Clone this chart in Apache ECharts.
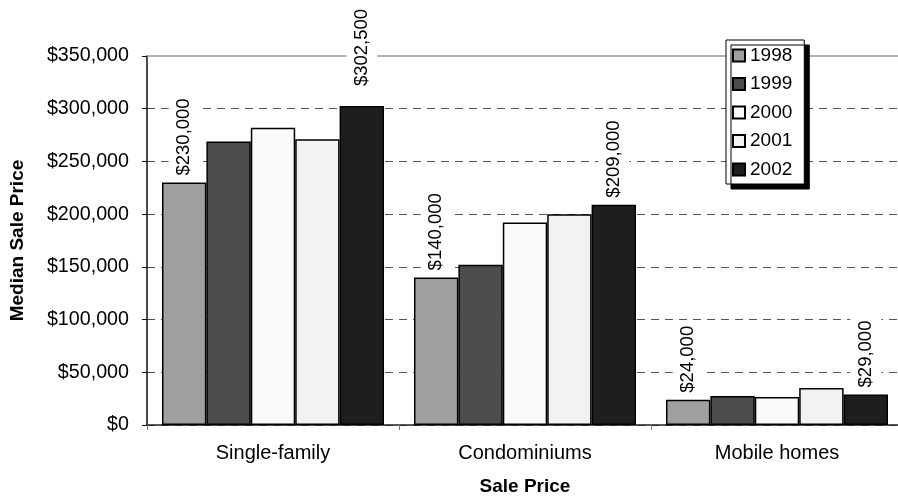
<!DOCTYPE html>
<html>
<head>
<meta charset="utf-8">
<script src="https://cdn.jsdelivr.net/npm/echarts@6/dist/echarts.min.js"></script>
<style>
  html, body { margin: 0; padding: 0; background: #fff; }
  #chart { width: 898px; height: 496px; }
</style>
</head>
<body>
<div id="chart"></div>
<script>
// Median sale price by housing type, 1998-2002
const categories = ['Single-family', 'Condominiums', 'Mobile homes'];
const years = ['1998', '1999', '2000', '2001', '2002'];
const values1998 = [230000, 140000, 24000];
const values1999 = [269000, 152000, 27500];
const values2000 = [282000, 192000, 26500];
const values2001 = [271000, 200000, 35000];
const values2002 = [302500, 209000, 29000];
const yMin = 0;
const yMax = 350000;
const yStep = 50000;

const seriesValues = [values1998, values1999, values2000, values2001, values2002];
const fills = ['#a0a0a0', '#4d4d4d', '#fafafa', '#f2f2f2', '#1e1e1e'];
const labelledYears = ['1998', '2002'];
const FONT = "'Liberation Sans', Arial, sans-serif";

const money = v => '$' + v.toLocaleString('en-US');

const series = years.map((yr, i) => {
  const showLabel = labelledYears.includes(yr);
  return {
    name: yr,
    type: 'bar',
    barGap: '0%',
    barCategoryGap: '11.9%',
    itemStyle: { color: fills[i], borderColor: '#000', borderWidth: 1.5 },
    label: {
      show: showLabel,
      position: 'top',
      rotate: 90,
      align: 'left',
      verticalAlign: 'middle',
      distance: 4,
      padding: [6, 3, 6, 3],
      backgroundColor: '#fff',
      color: '#000',
      fontFamily: FONT,
      fontSize: 18.5,
      formatter: p => money(p.value)
    },
    data: seriesValues[i].map(v => {
      // the tallest bar's label sits a little higher, clear of the top rule
      if (showLabel && yr === '2002' && v === Math.max(...values2002)) {
        return { value: v, label: { distance: 17 } };
      }
      return v;
    })
  };
});

const chart = echarts.init(document.getElementById('chart'), null, { renderer: 'canvas' });
chart.setOption({
  animation: false,
  backgroundColor: '#fff',
  textStyle: { fontFamily: FONT },
  grid: {
    left: 147, top: 56, width: 756, height: 369,
    containLabel: false,
    outerBoundsMode: 'none'
  },
  legend: {
    orient: 'vertical',
    left: 726,
    top: 40,
    icon: 'rect',
    itemWidth: 12,
    itemHeight: 12,
    itemGap: 9.5,
    padding: [6, 12, 5, 6],
    backgroundColor: '#fff',
    borderColor: '#000',
    borderWidth: 1,
    shadowColor: '#000',
    shadowBlur: 0,
    shadowOffsetX: 5,
    shadowOffsetY: 5,
    textStyle: { fontFamily: FONT, fontSize: 19, color: '#000', lineHeight: 19 },
    data: years
  },
  xAxis: [
    {
      type: 'category',
      data: categories,
      position: 'bottom',
      name: 'Sale Price',
      nameLocation: 'middle',
      nameGap: 52,
      nameTextStyle: { fontFamily: FONT, fontSize: 19, fontWeight: 'bold', color: '#000' },
      axisLine: { lineStyle: { color: '#222', width: 1.5 } },
      axisTick: { show: true, length: 5, lineStyle: { color: '#777' } },
      axisLabel: { margin: 18, fontFamily: FONT, fontSize: 20, color: '#000' },
      splitLine: { show: false }
    },
    {
      type: 'category',
      data: categories,
      position: 'top',
      axisLine: { lineStyle: { color: '#999', width: 1.5 } },
      axisTick: { show: false },
      axisLabel: { show: false },
      splitLine: { show: false }
    }
  ],
  yAxis: {
    type: 'value',
    min: yMin,
    max: yMax,
    interval: yStep,
    name: 'Median Sale Price',
    nameLocation: 'middle',
    nameGap: 120,
    nameRotate: 90,
    nameTextStyle: { fontFamily: FONT, fontSize: 19, fontWeight: 'bold', color: '#000' },
    axisLine: { show: true, lineStyle: { color: '#111', width: 1.5 } },
    axisTick: { show: true, length: 5, lineStyle: { color: '#111' } },
    axisLabel: { margin: 18, fontFamily: FONT, fontSize: 19.7, color: '#000', formatter: money },
    splitLine: {
      show: true,
      showMaxLine: false,
      lineStyle: { color: '#555', type: [8, 6], width: 1 }
    }
  },
  series: series
});
</script>
</body>
</html>
